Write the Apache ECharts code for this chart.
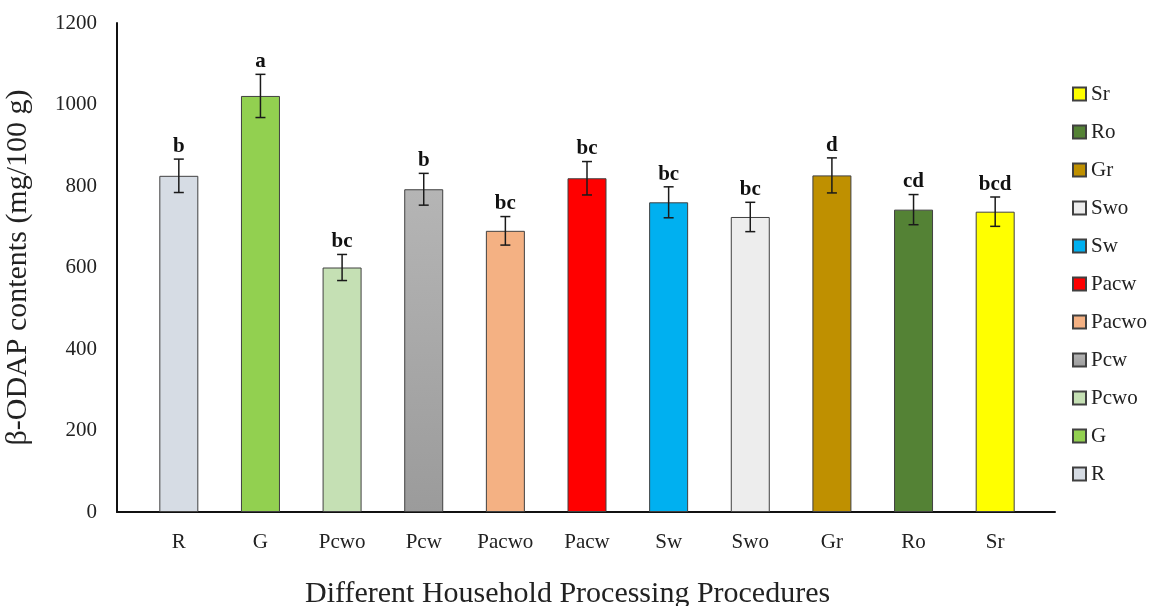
<!DOCTYPE html>
<html>
<head>
<meta charset="utf-8">
<script src="https://cdn.jsdelivr.net/npm/echarts@6/dist/echarts.min.js"></script>
<style>
  html, body { margin: 0; padding: 0; background: #fff; }
  #chart { width: 1159px; height: 606px; }
</style>
</head>
<body>
<div id="chart"></div>
<script>
// Treatments (household processing procedures)
const categories = ['R', 'G', 'Pcwo', 'Pcw', 'Pacwo', 'Pacw', 'Sw', 'Swo', 'Gr', 'Ro', 'Sr'];
// Mean β-ODAP contents (mg/100 g)
const means = [825, 1021, 600, 792, 690, 819, 760, 724, 826, 742, 737];
// Standard deviations
const sds = [41, 53, 32, 39, 35, 41, 38, 36, 43, 37, 36];
// Significance letters
const letters = ['b', 'a', 'bc', 'b', 'bc', 'bc', 'bc', 'bc', 'd', 'cd', 'bcd'];
// Y-axis ticks
const yTicks = [0, 200, 400, 600, 800, 1000, 1200];

const FONT = 'Liberation Serif';

const colors = [
  '#d6dce4',
  '#92d050',
  '#c5e0b4',
  new echarts.graphic.LinearGradient(0, 0, 0, 1, [
    { offset: 0, color: '#b5b5b5' },
    { offset: 1, color: '#9b9b9b' }
  ]),
  '#f4b183',
  '#ff0000',
  '#00b0f0',
  '#ededed',
  '#bf9000',
  '#548235',
  '#ffff00'
];

const barSeries = categories.map((name, i) => ({
  name: name,
  type: 'bar',
  stack: 'all',
  xAxisIndex: 0,
  yAxisIndex: 0,
  barWidth: 39,
  itemStyle: { color: colors[i], borderColor: '#404040', borderWidth: 1 },
  data: categories.map((_, j) => (j === i ? means[i] : '-'))
}));

const errorSeries = {
  type: 'custom',
  xAxisIndex: 0,
  yAxisIndex: 0,
  z: 5,
  data: means.map((m, i) => [i, m, sds[i]]),
  encode: { x: 0, y: 1 },
  renderItem: function (params, api) {
    const i = api.value(0);
    const m = api.value(1);
    const s = api.value(2);
    const top = api.coord([i, m + s]);
    const bot = api.coord([i, m - s]);
    const cap = 5;
    const style = { stroke: '#1a1a1a', lineWidth: 1.5 };
    return {
      type: 'group',
      children: [
        { type: 'line', shape: { x1: top[0], y1: top[1], x2: bot[0], y2: bot[1] }, style: style },
        { type: 'line', shape: { x1: top[0] - cap, y1: top[1], x2: top[0] + cap, y2: top[1] }, style: style },
        { type: 'line', shape: { x1: bot[0] - cap, y1: bot[1], x2: bot[0] + cap, y2: bot[1] }, style: style },
        {
          type: 'text',
          x: top[0],
          y: top[1] - 2,
          style: {
            text: letters[params.dataIndex],
            fill: '#111',
            font: 'bold 21px ' + FONT,
            textAlign: 'center',
            textVerticalAlign: 'bottom'
          }
        }
      ]
    };
  }
};

const chart = echarts.init(document.getElementById('chart'));
chart.setOption({
  backgroundColor: '#fff',
  animation: false,
  textStyle: { fontFamily: FONT },
  title: {
    text: 'Different Household Processing Procedures',
    left: 300,
    top: 574,
    textStyle: { fontFamily: FONT, fontSize: 30, fontWeight: 'normal', color: '#222' }
  },
  legend: {
    orient: 'vertical',
    left: 1072,
    top: 82,
    padding: 0,
    icon: 'rect',
    itemWidth: 13,
    itemHeight: 13,
    itemGap: 14,
    data: categories.slice().reverse(),
    textStyle: { fontFamily: FONT, fontSize: 21, color: '#222', lineHeight: 24, padding: [0, 0, 0, 0] }
  },
  grid: [
    { left: 138, right: 123, top: 23, bottom: 94, outerBoundsMode: 'none' },
    { left: 117, right: 104, top: 23, bottom: 94, outerBoundsMode: 'none' }
  ],
  xAxis: [
    {
      type: 'category',
      gridIndex: 0,
      data: categories,
      axisLine: { show: false },
      axisTick: { show: false },
      axisLabel: { fontFamily: FONT, fontSize: 21, color: '#222', margin: 20 }
    },
    {
      type: 'value',
      gridIndex: 1,
      min: 0,
      max: 1,
      axisLine: { show: true, lineStyle: { color: '#111', width: 2 } },
      axisTick: { show: false },
      axisLabel: { show: false },
      splitLine: { show: false }
    }
  ],
  yAxis: [
    {
      type: 'value',
      gridIndex: 0,
      min: yTicks[0],
      max: yTicks[yTicks.length - 1],
      interval: 200,
      show: false,
      splitLine: { show: false }
    },
    {
      type: 'value',
      gridIndex: 1,
      min: yTicks[0],
      max: yTicks[yTicks.length - 1],
      interval: 200,
      name: 'β-ODAP contents (mg/100 g)',
      nameLocation: 'middle',
      nameGap: 84,
      nameTextStyle: { fontFamily: FONT, fontSize: 30, color: '#222' },
      axisLine: { show: true, lineStyle: { color: '#111', width: 2 } },
      axisTick: { show: false },
      axisLabel: { fontFamily: FONT, fontSize: 21, color: '#222', margin: 20, formatter: v => String(v) },
      splitLine: { show: false }
    }
  ],
  series: barSeries.concat([errorSeries])
});
</script>
</body>
</html>
